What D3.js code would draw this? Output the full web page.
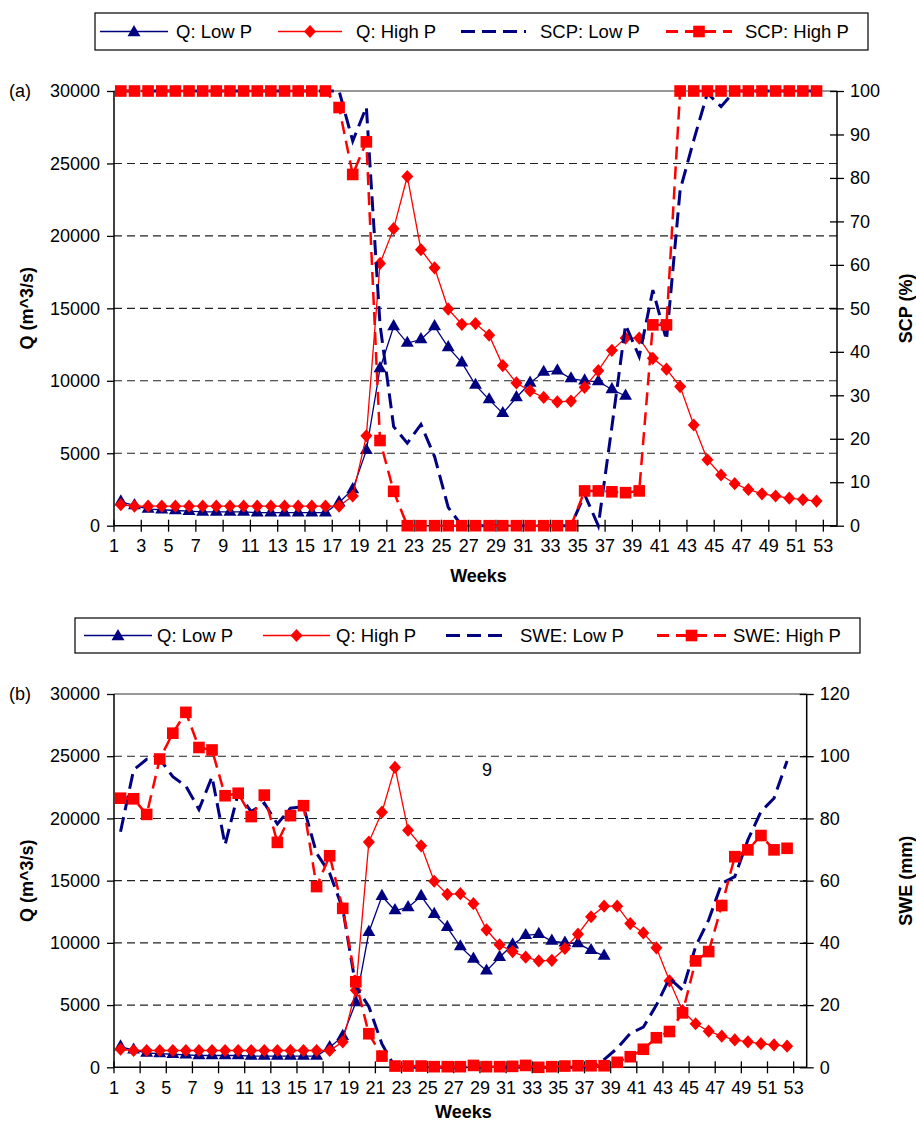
<!DOCTYPE html>
<html>
<head>
<meta charset="utf-8">
<script src="https://cdn.jsdelivr.net/npm/d3@7"></script>
<style>
  html, body { margin: 0; padding: 0; background: #fff; }
  svg { display: block; font-family: "Liberation Sans", Arial, sans-serif; }
</style>
</head>
<body>
<svg id="chart" width="916" height="1126"></svg>
<script>
// ---------------- DATA ----------------
const weeks = [1,2,3,4,5,6,7,8,9,10,11,12,13,14,15,16,17,18,19,20,21,22,23,24,25,26,27,28,29,30,31,32,33,34,35,36,37,38,39,40,41,42,43,44,45,46,47,48,49,50,51,52,53];
const weekTickLabels = [1,3,5,7,9,11,13,15,17,19,21,23,25,27,29,31,33,35,37,39,41,43,45,47,49,51,53];
const qTicks = [0,5000,10000,15000,20000,25000,30000];
const scpTicks = [0,10,20,30,40,50,60,70,80,90,100];
const sweTicks = [0,20,40,60,80,100,120];

// Discharge Q (m^3/s), weeks 1..38 (Low P) and 1..52 (High P)
const qLowP = [1650,1400,1150,1100,1050,1000,950,950,950,950,900,900,900,900,900,900,1600,2500,5200,10850,
  13750,12600,12850,13750,12300,11250,9700,8700,7750,8850,9850,10600,10700,10150,10000,9950,9400,8950];
const qHighP = [1450,1350,1350,1350,1350,1350,1350,1350,1350,1350,1350,1350,1350,1350,1350,1350,1350,2050,6200,18100,
  20500,24100,19050,17800,14950,13900,13950,13150,11050,9850,9300,8850,8550,8600,9550,10700,12100,12950,12950,11550,
  10800,9600,6950,4550,3500,2900,2500,2200,2050,1900,1800,1700];

// Snow cover percentage SCP (%), weeks 1..52
const scpLowP = [100,100,100,100,100,100,100,100,100,100,100,100,100,100,100,100,100,88.5,96.3,46.3,
  22.8,19.0,23.3,15.9,4.2,0,0,0,0,0,0,0,0,0,7.2,0,22.8,46.2,38.9,54.2,
  42.7,77.2,88.7,99.5,96.4,100,100,100,100,100,100,100];
const scpHighP = [100,100,100,100,100,100,100,100,100,100,100,100,100,100,100,100,96.2,80.8,88.3,19.6,
  7.9,0,0,0,0,0,0,0,0,0,0,0,0,0,8,8,7.8,7.6,8,46.2,
  46.2,100,100,100,100,100,100,100,100,100,100,100];

// Snow water equivalent SWE (mm), weeks 1..52
const sweLowP = [75.7,95.6,99.0,99.1,93.4,90.4,82.9,93.4,71.5,88.1,82.2,84.9,78.2,83.3,83.8,68.8,62.4,51.0,26.0,19.5,
  7.5,0,0,0,0,0,0,0,0,0,0,0,0,0,0,0,0,2.5,6.1,10.9,
  12.9,20.0,28.6,24.8,38.8,47.4,59.1,61.3,73.1,82.2,86.5,98.5];
const sweHighP = [86.5,86.3,81.3,99.1,107.4,114.1,102.8,102.0,87.3,88.1,80.6,87.5,72.3,80.9,84.1,58.1,68.0,51.1,27.5,10.8,
  3.6,0.4,0.4,0.4,0.2,0.2,0.2,0.6,0.2,0.2,0.3,0.6,0,0.2,0.4,0.5,0.5,0.5,1.6,3.4,
  5.8,9.5,11.5,17.5,34.2,37.2,52.0,67.7,69.9,74.5,69.9,70.4];

// ---------------- DRAWING ----------------
const NAVY = "#000080", RED = "#ff0000";
const svg = d3.select("#chart");
const FONT = 18;

const diamondType = {
  draw(ctx) { ctx.moveTo(0, -6.6); ctx.lineTo(6, 0); ctx.lineTo(0, 6.6); ctx.lineTo(-6, 0); ctx.closePath(); }
};
const triSym = d3.symbol().type(d3.symbolTriangle).size(72);
const diaSym = d3.symbol().type(diamondType);
const sqSym = d3.symbol().type(d3.symbolSquare).size(135);

function drawLegend(g, box, items, names) {
  g.append("rect").attr("x", box.x).attr("y", box.y).attr("width", box.w).attr("height", box.h)
    .attr("fill", "#fff").attr("stroke", "#000").attr("stroke-width", 1.2);
  const cy = box.y + box.h / 2;
  const styles = [
    {c: NAVY, w: 1.3, dash: null, sym: triSym},
    {c: RED, w: 1.3, dash: null, sym: diaSym},
    {c: NAVY, w: 3, dash: "14,7", sym: null},
    {c: RED, w: 3, dash: "12,7", sym: sqSym}
  ];
  styles.forEach((it, i) => {
    const [x0, x1, tx] = items[i];
    g.append("line").attr("x1", x0).attr("x2", x1).attr("y1", cy).attr("y2", cy)
      .attr("stroke", it.c).attr("stroke-width", it.w)
      .attr("stroke-dasharray", it.dash);
    if (it.sym) {
      g.append("path").attr("d", it.sym()).attr("fill", it.c)
        .attr("transform", `translate(${(x0 + x1) / 2},${cy + (it.sym === triSym ? 1 : 0)})`);
    }
    g.append("text").attr("x", tx).attr("y", cy + 6.5).attr("font-size", FONT + 0.5)
      .attr("fill", "#000").text(names[i]);
  });
}

function drawPanel(cfg) {
  const g = svg.append("g");
  const x = d3.scaleBand().domain(weeks).range([cfg.left, cfg.right]).padding(0);
  const cx = w => x(w) + x.bandwidth() / 2;
  const yL = d3.scaleLinear().domain([0, 30000]).range([cfg.bottom, cfg.top]);
  const yR = d3.scaleLinear().domain([0, cfg.rMax]).range([cfg.bottom, cfg.top]);

  // gridlines
  g.selectAll(".grid").data(qTicks.filter(t => t > 0 && t < 30000)).join("line")
    .attr("x1", cfg.left).attr("x2", cfg.right)
    .attr("y1", d => yL(d)).attr("y2", d => yL(d))
    .attr("stroke", "#222").attr("stroke-width", 1.1).attr("stroke-dasharray", "8,5");
  // top border
  g.append("line").attr("x1", cfg.left).attr("x2", cfg.right)
    .attr("y1", cfg.top).attr("y2", cfg.top).attr("stroke", "#333").attr("stroke-width", 1.2);

  // left axis
  const axL = d3.axisLeft(yL).tickValues(qTicks).tickSize(7).tickPadding(7).tickFormat(d3.format("d"));
  const gL = g.append("g").attr("transform", `translate(${cfg.left},0)`).call(axL);
  // right axis
  const axR = d3.axisRight(yR).tickValues(cfg.rTicks).tickSize(7).tickPadding(6).tickFormat(d3.format("d"));
  const gR = g.append("g").attr("transform", `translate(${cfg.right},0)`).call(axR);
  gR.selectAll(".tick line").attr("x1", -7);
  // bottom axis
  const axB = d3.axisBottom(x).tickValues(weekTickLabels).tickSize(6).tickPadding(8);
  const gB = g.append("g").attr("transform", `translate(0,${cfg.bottom})`).call(axB);
  gB.selectAll(".tick").attr("transform", d => `translate(${x(d)},0)`);
  gB.selectAll(".tick line").attr("y1", -6);
  [gL, gR, gB].forEach(a => {
    a.select(".domain").attr("stroke", "#000").attr("stroke-width", 1.5);
    a.selectAll(".tick line").attr("stroke", "#000").attr("stroke-width", 1.3);
    a.selectAll("text").attr("font-size", FONT).attr("fill", "#000")
      .attr("font-family", "'Liberation Sans', Arial, sans-serif");
  });
  gB.select(".domain").attr("d", `M${cfg.left},0H${cfg.right}`);
  gL.select(".domain").attr("d", `M0,${cfg.bottom}V${cfg.top}`);
  gR.select(".domain").attr("d", `M0,${cfg.bottom}V${cfg.top}`);

  // series
  const lineL = d3.line().x((d, i) => cx(weeks[i])).y(d => yL(d));
  const lineR = d3.line().x((d, i) => cx(weeks[i])).y(d => yR(d));

  g.append("path").attr("d", lineL(qLowP)).attr("fill", "none").attr("stroke", NAVY).attr("stroke-width", 1.3);
  g.selectAll(".tri").data(qLowP).join("path").attr("d", triSym()).attr("fill", NAVY)
    .attr("transform", (d, i) => `translate(${cx(weeks[i])},${yL(d)})`);

  g.append("path").attr("d", lineL(qHighP)).attr("fill", "none").attr("stroke", RED).attr("stroke-width", 1.3);
  g.selectAll(".dia").data(qHighP).join("path").attr("d", diaSym()).attr("fill", RED)
    .attr("transform", (d, i) => `translate(${cx(weeks[i])},${yL(d)})`);

  g.append("path").attr("d", lineR(cfg.lowR)).attr("fill", "none").attr("stroke", NAVY)
    .attr("stroke-width", 3).attr("stroke-dasharray", "15,7");

  g.append("path").attr("d", lineR(cfg.highR)).attr("fill", "none").attr("stroke", RED)
    .attr("stroke-width", 2.5).attr("stroke-dasharray", "13,7");
  g.selectAll(".sq").data(cfg.highR).join("path").attr("d", sqSym()).attr("fill", RED)
    .attr("transform", (d, i) => `translate(${cx(weeks[i])},${yR(d)})`);

  // titles
  g.append("text").attr("x", (cfg.left + cfg.right) / 2 + 3).attr("y", cfg.bottom + cfg.weeksDy)
    .attr("text-anchor", "middle").attr("font-size", FONT).attr("font-weight", "bold").text("Weeks");
  g.append("text").attr("transform", `translate(33,${(cfg.top + cfg.bottom) / 2}) rotate(-90)`)
    .attr("text-anchor", "middle").attr("font-size", FONT).attr("font-weight", "bold").text("Q (m^3/s)");
  g.append("text").attr("transform", `translate(${cfg.rTitleX},${(cfg.top + cfg.bottom) / 2}) rotate(-90)`)
    .attr("text-anchor", "middle").attr("font-size", FONT).attr("font-weight", "bold").text(cfg.rTitle);
  g.append("text").attr("x", 9).attr("y", cfg.top + 6).attr("font-size", FONT).text(cfg.tag);
}

drawLegend(svg.append("g"), {x: 95, y: 13, w: 773, h: 37},
  [[100, 168, 176], [278, 342, 356], [461, 526, 540], [666, 732, 745]],
  ["Q: Low P", "Q: High P", "SCP: Low P", "SCP: High P"]);
drawPanel({left: 114, right: 837, top: 91, bottom: 525.7, rMax: 100, rTicks: scpTicks,
  lowR: scpLowP, highR: scpHighP, rTitle: "SCP (%)", rTitleX: 912, tag: "(a)", weeksDy: 56});

drawLegend(svg.append("g"), {x: 75, y: 618, w: 785, h: 35},
  [[84, 152, 157], [263, 330, 336], [446, 509, 520], [657, 726, 733]],
  ["Q: Low P", "Q: High P", "SWE: Low P", "SWE: High P"]);
drawPanel({left: 114, right: 806.7, top: 694, bottom: 1067.3, rMax: 120, rTicks: sweTicks,
  lowR: sweLowP, highR: sweHighP, rTitle: "SWE (mm)", rTitleX: 912, tag: "(b)", weeksDy: 51});

svg.append("text").attr("x", 487).attr("y", 776).attr("text-anchor", "middle")
  .attr("font-size", FONT).text("9");
</script>
</body>
</html>
